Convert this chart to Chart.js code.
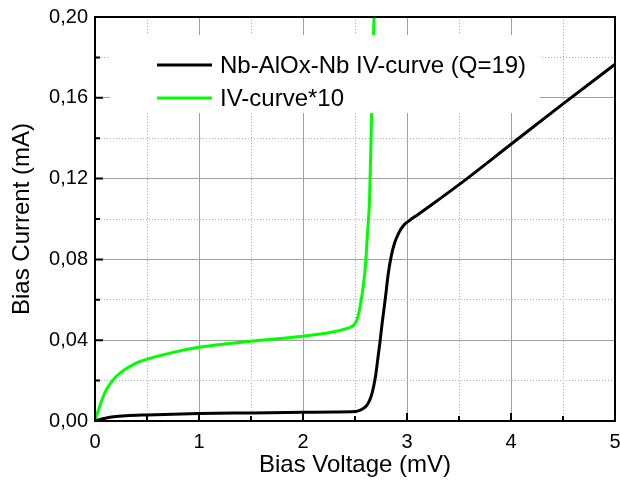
<!DOCTYPE html>
<html>
<head>
    <title>Nb-AlOx-Nb IV-curve</title>
    <script src="https://cdn.jsdelivr.net/npm/chart.js"></script>
    <style>
        html, body { margin: 0; padding: 0; background: #fff; }
        #wrap { width: 620px; height: 481px; }
    </style>
</head>
<body>
    <div id="wrap"><canvas id="ivChart"></canvas></div>

    <script>
        // measured IV curve (bias voltage in mV, current in mA)
        const ivVoltage = [0, 0.05, 0.1, 0.18, 0.3, 0.5, 0.75, 1.0, 1.5, 2.0, 2.3, 2.5, 2.55, 2.6, 2.63, 2.66, 2.68,
            2.70, 2.72, 2.74, 2.76, 2.79, 2.82, 2.85, 2.88, 2.92, 2.97, 3.03, 3.1, 3.22, 3.5, 4.0, 4.5, 5.0];
        const ivCurrent = [0, 0.0008, 0.0014, 0.0021, 0.0026, 0.0030, 0.0034, 0.0037, 0.0040, 0.0043, 0.0045, 0.0047,
            0.0054, 0.0070, 0.0091, 0.0130, 0.0173, 0.023, 0.031, 0.039, 0.048, 0.060, 0.073, 0.082, 0.088, 0.093,
            0.097, 0.0995, 0.102, 0.1064, 0.117, 0.137, 0.157, 0.1766];

        // same curve, current scaled x10
        const iv10Voltage = [0, 0.01, 0.03, 0.055, 0.1, 0.15, 0.2, 0.28, 0.4, 0.5, 0.76, 1.0, 1.5, 2.0, 2.26, 2.4,
            2.45, 2.5, 2.53, 2.56, 2.58, 2.6, 2.62, 2.64, 2.66, 2.68, 2.70];
        const iv10Current = [0, 0.002, 0.005, 0.0088, 0.0145, 0.0187, 0.0218, 0.0252, 0.0288, 0.0306, 0.0341, 0.0365,
            0.0395, 0.0420, 0.0438, 0.0455, 0.0463, 0.0482, 0.052, 0.060, 0.067, 0.0767, 0.0933, 0.110, 0.153, 0.195, 0.215];

        const seriesLabels = ['Nb-AlOx-Nb IV-curve (Q=19)', 'IV-curve*10'];
        const xTitle = 'Bias Voltage (mV)';
        const yTitle = 'Bias Current (mA)';

        const FONT = "'Liberation Sans', Arial, sans-serif";

        function toPoints(xs, ys) {
            return xs.map((x, i) => ({ x: x, y: ys[i] }));
        }

        function isMajorX(v) { return Math.abs(v - Math.round(v)) < 1e-6; }
        function isMajorY(v) { return Math.round(v * 100) % 4 === 0; }

        // white legend box drawn on top of the curves, like the original
        const boxLegend = {
            id: 'boxLegend',
            afterDatasetsDraw(chart) {
                const ctx = chart.ctx;
                const a = chart.chartArea;
                const x0 = a.left + 15, y0 = a.top + 18;
                ctx.save();
                ctx.fillStyle = '#fff';
                ctx.fillRect(x0, y0, 430, 78);
                chart.data.datasets.forEach((ds, i) => {
                    const y = y0 + 30 + i * 33;
                    ctx.strokeStyle = ds.borderColor;
                    ctx.lineWidth = 3;
                    ctx.beginPath();
                    ctx.moveTo(x0 + 47, y);
                    ctx.lineTo(x0 + 102, y);
                    ctx.stroke();
                    ctx.fillStyle = '#000';
                    ctx.font = '24px ' + FONT;
                    ctx.textBaseline = 'middle';
                    ctx.fillText(ds.label, x0 + 110, y + 1);
                });
                ctx.restore();
            }
        };

        // black frame and inward tick marks
        const frame = {
            id: 'frame',
            afterDraw(chart) {
                const ctx = chart.ctx;
                const a = chart.chartArea;
                const xs = chart.scales.x, ys = chart.scales.y;
                ctx.save();
                ctx.strokeStyle = '#000';
                ctx.lineWidth = 2;
                ctx.strokeRect(a.left, a.top, a.right - a.left, a.bottom - a.top);
                ctx.beginPath();
                xs.ticks.forEach(t => {
                    const px = xs.getPixelForValue(t.value);
                    const len = isMajorX(t.value) ? 8 : 5;
                    ctx.moveTo(px, a.bottom);
                    ctx.lineTo(px, a.bottom - len);
                });
                ys.ticks.forEach(t => {
                    const py = ys.getPixelForValue(t.value);
                    const len = isMajorY(t.value) ? 8 : 5;
                    ctx.moveTo(a.left, py);
                    ctx.lineTo(a.left + len, py);
                });
                ctx.stroke();
                ctx.restore();
            }
        };

        const ctx = document.getElementById('ivChart').getContext('2d');
        const ivChart = new Chart(ctx, {
            type: 'scatter',
            data: {
                datasets: [{
                    label: seriesLabels[0],
                    data: toPoints(ivVoltage, ivCurrent),
                    borderColor: '#000000',
                    borderWidth: 3,
                    showLine: true,
                    pointRadius: 0,
                    cubicInterpolationMode: 'monotone'
                }, {
                    label: seriesLabels[1],
                    data: toPoints(iv10Voltage, iv10Current),
                    borderColor: '#00ff00',
                    borderWidth: 3,
                    showLine: true,
                    pointRadius: 0,
                    cubicInterpolationMode: 'monotone'
                }]
            },
            options: {
                responsive: true,
                maintainAspectRatio: false,
                animation: false,
                layout: { padding: { top: 17, right: 5, left: 0, bottom: 0 } },
                plugins: {
                    legend: { display: false },
                    tooltip: { enabled: false }
                },
                scales: {
                    x: {
                        type: 'linear',
                        min: 0,
                        max: 5,
                        afterFit(scale) {
                            scale.height = 60;
                            scale.paddingLeft = 0;
                            scale.paddingRight = 0;
                        },
                        ticks: {
                            stepSize: 0.5,
                            autoSkip: false,
                            maxRotation: 0,
                            padding: 9,
                            color: '#000',
                            font: { family: FONT, size: 20 },
                            callback: v => isMajorX(v) ? String(Math.round(v)) : ''
                        },
                        grid: {
                            drawTicks: false,
                            color: c => isMajorX(c.tick.value) ? '#a0a0a0' : '#b0b0b0',
                            lineWidth: 1
                        },
                        border: {
                            display: false,
                            dash: c => isMajorX(c.tick.value) ? [] : [1, 2]
                        },
                        title: {
                            display: true,
                            text: xTitle,
                            color: '#000',
                            font: { family: FONT, size: 24 },
                            padding: { top: 0, bottom: 1 }
                        }
                    },
                    y: {
                        type: 'linear',
                        min: 0,
                        max: 0.2,
                        afterFit(scale) {
                            scale.width = 95;
                            scale.paddingTop = 0;
                            scale.paddingBottom = 0;
                        },
                        ticks: {
                            stepSize: 0.02,
                            autoSkip: false,
                            padding: 7,
                            color: '#000',
                            font: { family: FONT, size: 20 },
                            callback: v => isMajorY(v) ? v.toFixed(2).replace('.', ',') : ''
                        },
                        grid: {
                            drawTicks: false,
                            color: c => isMajorY(c.tick.value) ? '#a0a0a0' : '#b0b0b0',
                            lineWidth: 1
                        },
                        border: {
                            display: false,
                            dash: c => isMajorY(c.tick.value) ? [] : [1, 2]
                        },
                        title: {
                            display: true,
                            text: yTitle,
                            color: '#000',
                            font: { family: FONT, size: 24 },
                            padding: { top: 8, bottom: 0 }
                        }
                    }
                }
            },
            plugins: [boxLegend, frame]
        });
    </script>
</body>
</html>
